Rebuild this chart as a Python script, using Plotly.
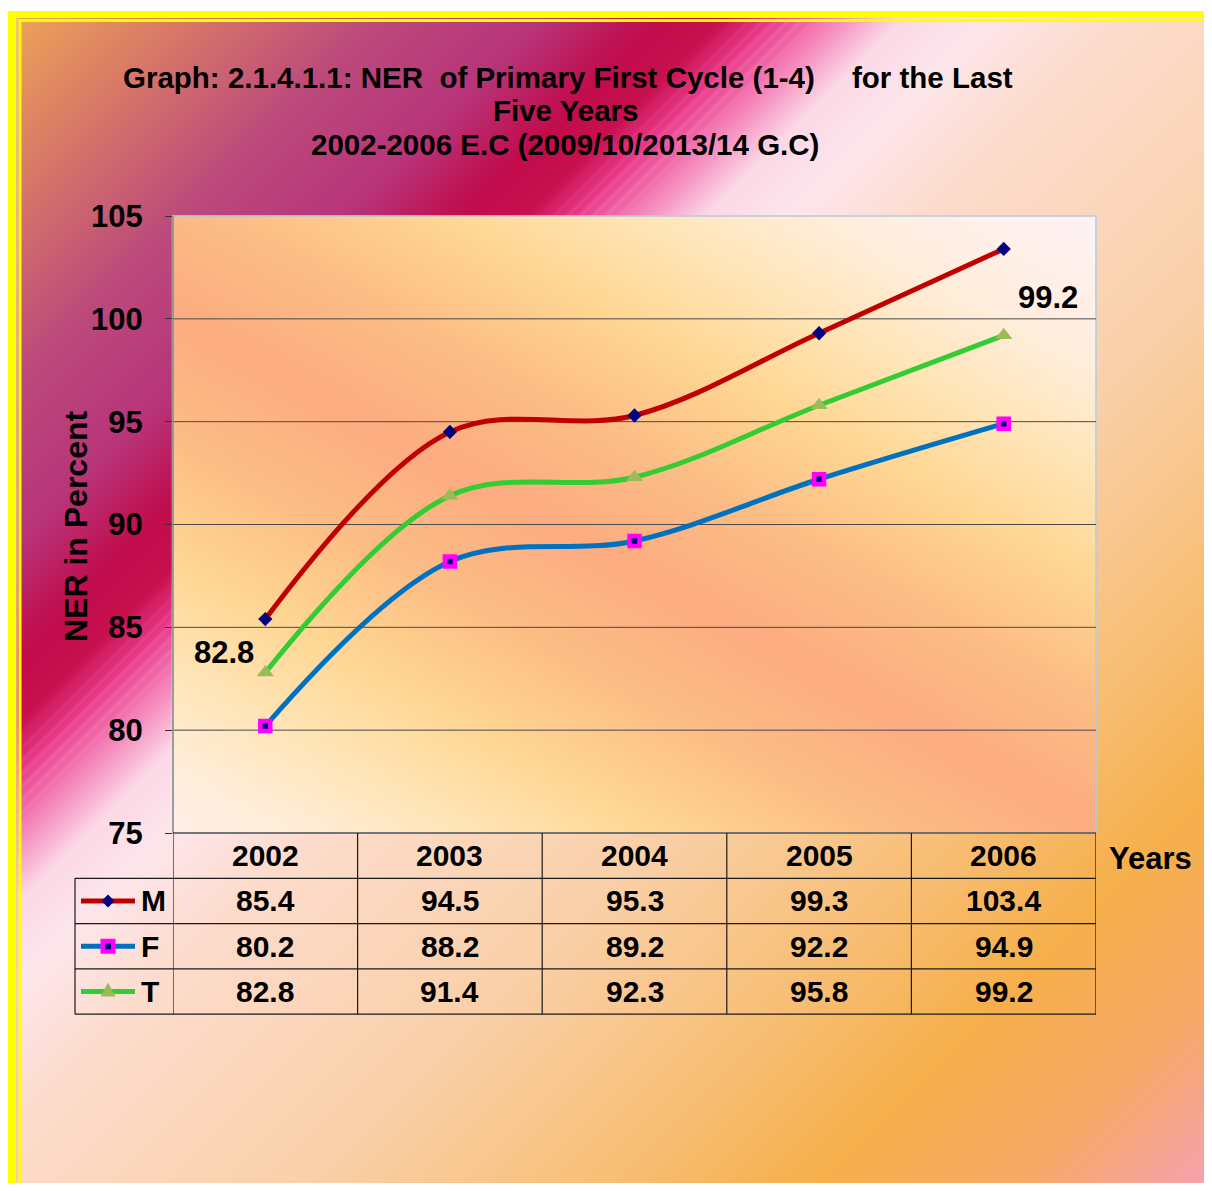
import base64, struct, zlib
import numpy as np
import plotly.graph_objects as go

# ---------------- data ----------------
years = ["2002", "2003", "2004", "2005", "2006"]
male = [85.4, 94.5, 95.3, 99.3, 103.4]
female = [80.2, 88.2, 89.2, 92.2, 94.9]
total = [82.8, 91.4, 92.3, 95.8, 99.2]
series_names = ["M", "F", "T"]
y_ticks = [75, 80, 85, 90, 95, 100, 105]

# ---------------- geometry ----------------
OFF = 8                     # page body margin
W, H = 1196, 1175
L, T, R, B = 165, 208, 108, 350
PW, PH = W - L - R, H - T - B
FONT = "Arial, 'Liberation Sans', sans-serif"


def px(xr):
    return (xr - OFF - L) / PW


def py(yr):
    return 1 - (yr - OFF - T) / PH


def hexrgb(h):
    h = h.lstrip("#")
    return [int(h[i:i + 2], 16) for i in (0, 2, 4)]


def ramp(t, stops):
    pos = [s[0] for s in stops]
    cols = np.array([hexrgb(s[1]) for s in stops], dtype=float)
    return np.stack([np.interp(t, pos, cols[:, c]) for c in range(3)], axis=-1)


# ---------------- background image ----------------
SC = 2
w2, h2 = W // SC, int(np.ceil(H / SC))
xs = (np.arange(w2) + 0.5) * SC + OFF
ys = (np.arange(h2) + 0.5) * SC + OFF
XR, YR = np.meshgrid(xs, ys)
tt = XR + YR
outer_stops = [(0, "#F3AC55"), (200, "#D97A68"), (400, "#BC4A7C"), (560, "#B8357A"),
               (680, "#C20C4C"), (740, "#C8104E"), (790, "#E83888"), (850, "#F580B8"),
               (920, "#FCD8E6"), (1000, "#FDE6EC"), (1150, "#FDDCCC"), (1500, "#FAD0A8"),
               (1800, "#F8BE74"), (2000, "#F6B04C"), (2200, "#F6AA66"), (2420, "#F7A0BC")]
img = ramp(tt, outer_stops)
# subtle streaks in the pink band
win = np.clip(1 - np.abs(tt - 820) / 70, 0, 1)
streak = np.clip(np.sin(2 * np.pi * tt / 13), 0, 1) * win * 0.35
pink = np.array(hexrgb("#FF8CC4"), dtype=float)
img = img * (1 - streak[..., None]) + pink * streak[..., None]

# plot-area fill
p0 = np.array([200.0, 330.0])
dvec = np.array([830.0, 460.0]); dvec /= np.linalg.norm(dvec)
nvec = np.array([-dvec[1], dvec[0]])
dd = np.abs((XR - p0[0]) * nvec[0] + (YR - p0[1]) * nvec[1])
inner_stops = [(0, "#FCAC80"), (110, "#FDBE86"), (210, "#FFD692"), (300, "#FFE4B4"),
               (400, "#FFEEDC"), (520, "#FFF2F4"), (2000, "#FFF2F4")]
inner = ramp(dd, inner_stops)
mask = (XR >= 173) & (XR <= 1096) & (YR >= 216) & (YR <= 833)
img[mask] = inner[mask]
# pale gap between the frame strips, white above the frame
gap = ((XR >= 16) & (XR < 18.5) & (YR >= 18)) | ((YR >= 18) & (YR < 19) & (XR >= 16))
img[gap] = hexrgb("#F4C8A8")
img[YR < 12] = 255
img = np.clip(img, 0, 255).astype(np.uint8)


def png_uri(a):
    hh, ww, _ = a.shape
    raw = b"".join(b"\x00" + a[r].tobytes() for r in range(hh))

    def chunk(tag, data):
        c = struct.pack(">I", len(data)) + tag + data
        return c + struct.pack(">I", zlib.crc32(tag + data) & 0xFFFFFFFF)

    png = (b"\x89PNG\r\n\x1a\n" + chunk(b"IHDR", struct.pack(">IIBBBBB", ww, hh, 8, 2, 0, 0, 0))
           + chunk(b"IDAT", zlib.compress(raw, 9)) + chunk(b"IEND", b""))
    return "data:image/png;base64," + base64.b64encode(png).decode()


# ---------------- figure ----------------
fig = go.Figure()
styles = [
    dict(line=dict(color="#C00000", width=5), marker=dict(symbol="diamond", size=11, color="#000080")),
    dict(line=dict(color="#0070C0", width=5),
         marker=dict(symbol="square", size=10, color="#000080", line=dict(color="#FF00FF", width=4.5))),
    dict(line=dict(color="#33CC33", width=5), marker=dict(symbol="triangle-up", size=15, color="#9BBB59")),
]
xi = list(range(len(years)))
for name, vals, st in zip(series_names, [male, female, total], styles):
    fig.add_trace(go.Scatter(x=xi, y=vals, name=name, mode="lines+markers",
                             line=dict(shape="spline", smoothing=1.0, **st["line"]),
                             marker=st["marker"], cliponaxis=False, showlegend=False))

shapes = []
# plot border
shapes.append(dict(type="rect", xref="paper", yref="paper", x0=0, x1=1, y0=0, y1=1,
                   line=dict(color="#B4CCE0", width=1.5), layer="below"))
# gridlines
for v in y_ticks[1:-1]:
    shapes.append(dict(type="line", xref="paper", yref="y", x0=0, x1=1, y0=v, y1=v,
                       line=dict(color="#4A4A4A", width=1), layer="below"))
# left axis line
shapes.append(dict(type="line", xref="paper", yref="paper", x0=0, x1=0, y0=0, y1=1,
                   line=dict(color="#7A7A7A", width=1.2)))

# table
tab_top, row_h = 833, 45.3
rows_y = [tab_top + row_h * k for k in range(5)]
lc = dict(color="#1A1A1A", width=1.2)
shapes.append(dict(type="line", xref="paper", yref="paper", x0=0, x1=1, y0=py(rows_y[0]), y1=py(rows_y[0]), line=lc))
for yv in rows_y[1:]:
    shapes.append(dict(type="line", xref="paper", yref="paper", x0=px(75), x1=1, y0=py(yv), y1=py(yv), line=lc))
for i in range(len(years) + 1):
    xv = i - 0.5
    shapes.append(dict(type="line", xref="x", yref="paper", x0=xv, x1=xv, y0=py(rows_y[0]), y1=py(rows_y[-1]), line=lc))
shapes.append(dict(type="line", xref="paper", yref="paper", x0=px(75), x1=px(75), y0=py(rows_y[1]), y1=py(rows_y[-1]), line=lc))

# legend keys in table
ux, uy = 1 / PW, 1 / PH
for k, st in enumerate(styles):
    yc = py(rows_y[k + 1] + row_h / 2)
    xc = px(108)
    shapes.append(dict(type="line", xref="paper", yref="paper", x0=px(81), x1=px(135), y0=yc, y1=yc,
                       line=dict(color=st["line"]["color"], width=5)))
    if k == 0:
        d = 6.5
        path = f"M {xc},{yc + d*uy} L {xc + d*ux},{yc} L {xc},{yc - d*uy} L {xc - d*ux},{yc} Z"
        shapes.append(dict(type="path", xref="paper", yref="paper", path=path,
                           fillcolor="#000080", line=dict(width=0)))
    elif k == 1:
        d = 7.5
        shapes.append(dict(type="rect", xref="paper", yref="paper", x0=xc - d*ux, x1=xc + d*ux,
                           y0=yc - d*uy, y1=yc + d*uy, fillcolor="#FF00FF", line=dict(width=0)))
        d = 3
        shapes.append(dict(type="rect", xref="paper", yref="paper", x0=xc - d*ux, x1=xc + d*ux,
                           y0=yc - d*uy, y1=yc + d*uy, fillcolor="#000080", line=dict(width=0)))
    else:
        path = (f"M {xc},{yc + 9*uy} L {xc + 7.5*ux},{yc - 5*uy} L {xc - 7.5*ux},{yc - 5*uy} Z")
        shapes.append(dict(type="path", xref="paper", yref="paper", path=path,
                           fillcolor="#9BBB59", line=dict(width=0)))

# yellow frame
yel = "#FFFF00"


def strip(x0, x1, y0, y1):
    shapes.append(dict(type="rect", xref="paper", yref="paper", x0=px(x0), x1=px(x1),
                       y0=py(y1), y1=py(y0), fillcolor=yel, line=dict(width=0)))


strip(8, 16, 11, 1191)
strip(18.5, 21.5, 19, 1191)
strip(8, 1212, 11, 18)
strip(18.5, 1212, 19, 22)
strip(8, 1212, 1186, 1191)

annotations = []


def ann(text, x, y, size, xanchor="center", xref="paper", yref="paper", **kw):
    annotations.append(dict(text=f"<b>{text}</b>", x=x, y=y, xref=xref, yref=yref,
                            showarrow=False, xanchor=xanchor, yanchor="middle",
                            font=dict(family=FONT, size=size, color="#000000"), **kw))


ann("Graph: 2.1.4.1.1: NER  of Primary First Cycle (1-4)", px(121), py(78), 29.5, xanchor="left")
ann("for the Last", px(850), py(78), 29.5, xanchor="left")
ann("Five Years", px(565), py(110), 29.5)
ann("2002-2006 E.C (2009/10/2013/14 G.C)", px(565), py(144), 29.5)
ann("NER in Percent", px(76), py(526), 32, textangle=-90)
ann("Years", px(1107), py(858), 31, xanchor="left")

# table texts
for i, yr in enumerate(years):
    ann(yr, i, py(rows_y[0] + row_h / 2), 30, xref="x")
for k, (name, vals) in enumerate(zip(series_names, [male, female, total])):
    yc = py(rows_y[k + 1] + row_h / 2)
    ann(name, px(139), yc, 30, xanchor="left")
    for i, v in enumerate(vals):
        ann(f"{v:.1f}", i, yc, 30, xref="x")

# data labels for Total series
ann(f"{total[0]:.1f}", 0, total[0], 31, xref="x", yref="y", xshift=-41, yshift=20)
ann(f"{total[-1]:.1f}", len(years) - 1, total[-1], 31, xref="x", yref="y", xshift=44, yshift=38)

fig.update_layout(
    width=W, height=H, autosize=False,
    margin=dict(l=L, r=R, t=T, b=B, pad=0),
    paper_bgcolor="#FFFFFF", plot_bgcolor="rgba(0,0,0,0)",
    showlegend=False,
    shapes=shapes, annotations=annotations,
    images=[dict(source=png_uri(img), xref="paper", yref="paper",
                 x=-L / PW, y=1 + T / PH, sizex=W / PW, sizey=H / PH,
                 xanchor="left", yanchor="top", sizing="stretch", layer="below")],
    xaxis=dict(range=[-0.5, 4.5], showgrid=False, showticklabels=False,
               showline=False, zeroline=False, ticks=""),
    yaxis=dict(range=[75, 105], tickvals=y_ticks, showgrid=False, zeroline=False,
               showline=False, ticks="outside", ticklen=7, tickcolor="#333333", tickwidth=1.2,
               ticklabelstandoff=16,
               tickfont=dict(family=FONT, size=31, color="#000000", weight="bold")),
)

fig.write_html("out.html")
